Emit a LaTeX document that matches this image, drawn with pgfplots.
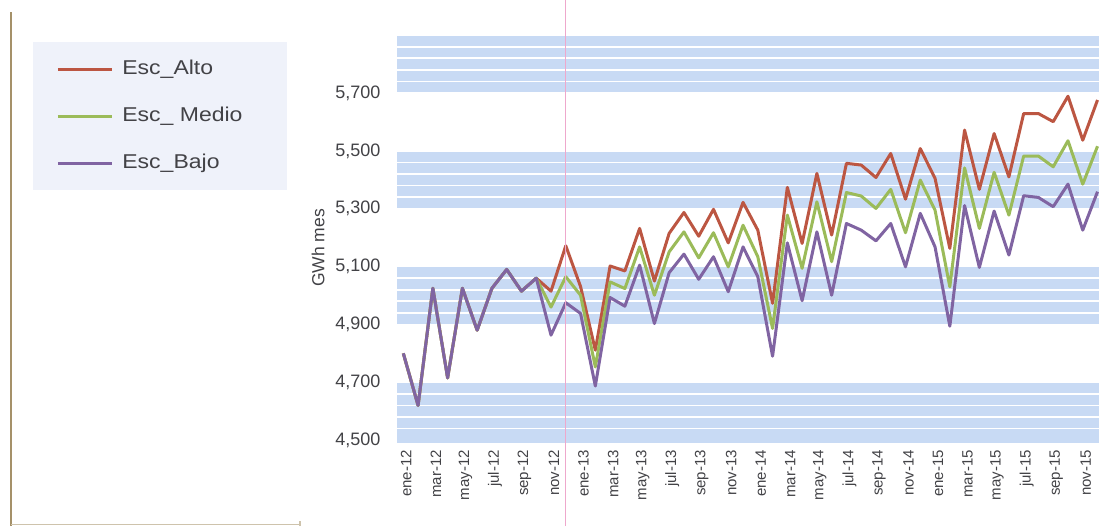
\documentclass[border=0pt]{standalone}
\usepackage{pgfplots}
\usepackage{pgfplotstable}
\pgfplotsset{compat=1.18}
\usepackage{fontspec}
\setmainfont{Liberation Sans}
\newfontfamily\legendfont[FakeStretch=1.15]{Liberation Sans}

\definecolor{alto}{RGB}{188,86,66}
\definecolor{medio}{RGB}{155,187,89}
\definecolor{bajo}{RGB}{128,100,162}
\definecolor{band}{RGB}{200,218,244}
\definecolor{legbg}{RGB}{239,242,250}
\definecolor{labelgray}{RGB}{66,66,70}
\definecolor{margin}{RGB}{165,145,105}
\definecolor{fold}{RGB}{238,168,204}

% Monthly demand scenarios (GWh per month), ene-12 = 0
\pgfplotstableread{
i  alto medio bajo
0  4800 4800 4800
1  4620 4620 4620
2  5025 5025 5025
3  4715 4715 4715
4  5025 5025 5025
5  4880 4880 4880
6  5025 5025 5025
7  5090 5090 5090
8  5015 5015 5015
9  5060 5060 5060
10 5015 4960 4863
11 5172 5065 4975
12 5031 5001 4938
13 4811 4753 4687
14 5102 5047 4993
15 5085 5024 4963
16 5232 5168 5105
17 5050 5001 4903
18 5215 5151 5079
19 5287 5220 5143
20 5205 5130 5056
21 5298 5217 5134
22 5182 5099 5013
23 5322 5243 5168
24 5226 5134 5065
25 4973 4886 4790
26 5374 5278 5182
27 5180 5094 4982
28 5422 5324 5220
29 5209 5117 5001
30 5457 5356 5249
31 5451 5344 5226
32 5408 5301 5189
33 5491 5367 5249
34 5333 5217 5099
35 5508 5399 5284
36 5405 5295 5168
37 5163 5030 4894
38 5572 5441 5311
39 5367 5232 5097
40 5560 5426 5292
41 5410 5278 5140
42 5629 5482 5345
43 5629 5482 5339
44 5601 5445 5307
45 5689 5535 5385
46 5537 5385 5226
47 5676 5516 5359
}\escenarios

\begin{document}
\begin{tikzpicture}
% page rules and legend panel
\fill[legbg] (16.5pt,168pt) rectangle (143.5pt,242pt);
\draw[margin, line width=1pt] (5.5pt,0) -- (5.5pt,257pt);
\draw[margin!55, line width=0.6pt] (5.5pt,0.6pt) -- (150pt,0.6pt) (150pt,0) -- (150pt,2.5pt);

\begin{axis}[
  set layers,
  at={(198.7pt,41.5pt)}, anchor=south west,
  scale only axis, width=350.8pt, height=203.9pt,
  xmin=-0.4, xmax=47.1, ymin=4490, ymax=5900,
  axis line style={draw=none}, tick style={draw=none},
  no markers,
  xtick={0,2,...,46},
  xticklabels={ene-12,mar-12,may-12,jul-12,sep-12,nov-12,ene-13,mar-13,may-13,jul-13,sep-13,nov-13,ene-14,mar-14,may-14,jul-14,sep-14,nov-14,ene-15,mar-15,may-15,jul-15,sep-15,nov-15},
  xticklabel style={rotate=90, anchor=east, font=\fontsize{7.5}{8}\selectfont, text=labelgray, yshift=-1.5pt},
  ytick={4500,4700,...,5700},
  minor ytick={4540,4580,...,5880},
  yminorgrids=true,
  minor grid style={white, line width=0.9pt},
  yticklabel style={font=\fontsize{9}{10}\selectfont, text=labelgray, xshift=-5pt},
  /pgf/number format/1000 sep={,},
  /pgf/number format/assume math mode=true,
  ylabel={GWh mes},
  ylabel style={at={(axis description cs:-0.1130,0.478)}, anchor=center, font=\fontsize{8.75}{10}\selectfont, text=labelgray},
  legend cell align=left,
  legend image code/.code={\draw[#1] (0pt,0pt) -- (27pt,0pt);},
  legend style={at={(axis description cs:-0.4866,0.939)}, anchor=north west,
    draw=none, fill=none, inner sep=0pt, row sep=14.3pt,
    nodes={inner sep=0pt, text height=7.2pt, text depth=2pt, font=\legendfont\fontsize{10}{12}\selectfont, text=labelgray},
    /tikz/every odd column/.append style={column sep=4.5pt}},
  every axis plot/.append style={line width=1.5pt, line join=round},
]
\pgfplotsextra{%
  \begin{pgfonlayer}{axis background}
    \fill[band] (axis cs:-0.4,4490) rectangle (axis cs:47.1,4700);
    \fill[band] (axis cs:-0.4,4900) rectangle (axis cs:47.1,5100);
    \fill[band] (axis cs:-0.4,5300) rectangle (axis cs:47.1,5500);
    \fill[band] (axis cs:-0.4,5700) rectangle (axis cs:47.1,5900);
  \end{pgfonlayer}}
\addplot[alto]  table[x=i, y=alto]  {\escenarios};
\addplot[medio] table[x=i, y=medio] {\escenarios};
\addplot[bajo]  table[x=i, y=bajo]  {\escenarios};
\legend{Esc\_Alto, Esc\_ Medio, Esc\_Bajo}
\end{axis}

% thin vertical rule crossing the page
\draw[fold, line width=0.5pt] (282.5pt,0) -- (282.5pt,263pt);
\pgfresetboundingbox
\path[use as bounding box] (0,0) rectangle (549.5pt,263pt);
\end{tikzpicture}
\end{document}
